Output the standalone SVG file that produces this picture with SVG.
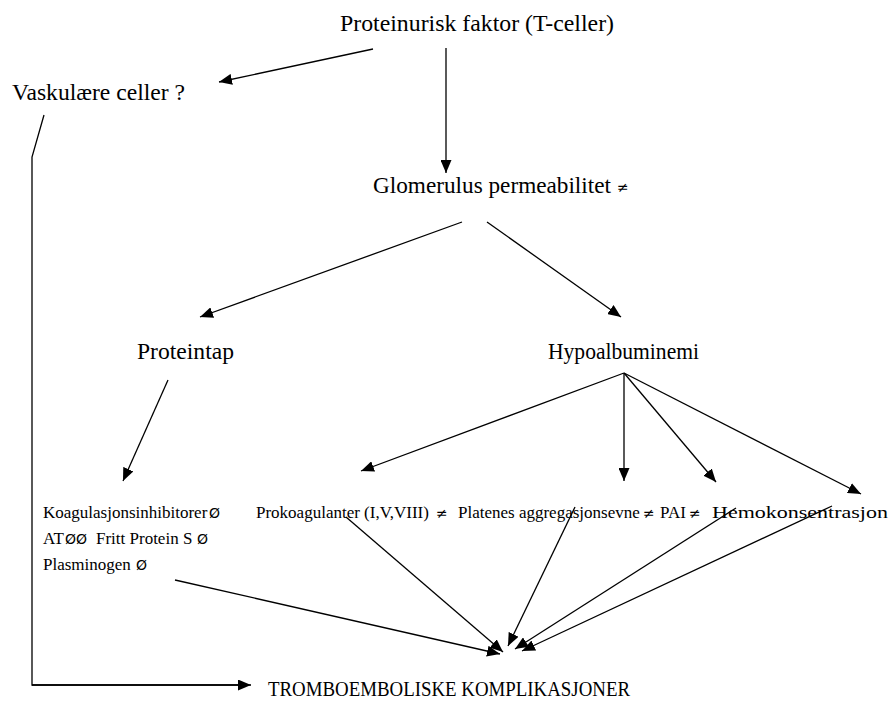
<svg xmlns="http://www.w3.org/2000/svg" width="896" height="704" viewBox="0 0 896 704">
<style>
.lbl{font-family:"Liberation Serif","Times New Roman",serif;font-size:23.5px;fill:#000}
.big{font-family:"Liberation Serif","Times New Roman",serif;font-size:22px;fill:#000}
.sm{font-family:"Liberation Serif","Times New Roman",serif;font-size:17px;fill:#000}
.sym{font-family:"DejaVu Sans","Liberation Sans",sans-serif;font-size:14px;fill:#000}
.ln{stroke:#000;stroke-width:1.3;fill:none}
.ar{marker-end:url(#ah)}
</style>
<defs>
<marker id="ah" markerUnits="userSpaceOnUse" markerWidth="13" markerHeight="11" refX="13" refY="5.5" orient="auto">
<path d="M0,0 L13,5.5 L0,11 z" fill="#000"/>
</marker>
</defs>
<rect width="896" height="704" fill="#fff"/>
<g id="connectors">
<line class="ln ar" x1="373" y1="49" x2="219" y2="82"/>
<line class="ln ar" x1="446" y1="48" x2="446" y2="173"/>
<polyline class="ln" points="44,115 32,157 32,685 240,685"/>
<line class="ln ar" x1="32" y1="685" x2="251" y2="685"/>
<line class="ln ar" x1="462" y1="222" x2="200" y2="317"/>
<line class="ln ar" x1="487" y1="222" x2="621" y2="317"/>
<line class="ln ar" x1="168" y1="380" x2="123" y2="481"/>
<line class="ln ar" x1="624" y1="373" x2="361" y2="471"/>
<line class="ln ar" x1="624" y1="373" x2="624" y2="481"/>
<line class="ln ar" x1="624" y1="373" x2="716" y2="482"/>
<line class="ln ar" x1="624" y1="373" x2="861" y2="494"/>
<line class="ln ar" x1="175" y1="580" x2="500" y2="654"/>
<line class="ln ar" x1="346" y1="517" x2="503" y2="652"/>
<line class="ln ar" x1="575" y1="507" x2="508" y2="646"/>
<line class="ln ar" x1="736" y1="508" x2="515" y2="649"/>
<line class="ln ar" x1="832" y1="506" x2="522" y2="651"/>
</g>
<g id="node-proteinurisk">
<text class="lbl" x="340" y="31" textLength="274" lengthAdjust="spacingAndGlyphs">Proteinurisk faktor (T-celler)</text>
</g>
<g id="node-vaskulaere">
<text class="lbl" x="12" y="100" textLength="173" lengthAdjust="spacingAndGlyphs">Vaskulære celler ?</text>
</g>
<g id="node-glomerulus">
<text class="lbl" x="373" y="193" textLength="238" lengthAdjust="spacingAndGlyphs">Glomerulus permeabilitet</text>
<text class="sym" x="617" y="192">≠</text>
</g>
<g id="node-proteintap">
<text class="lbl" x="137" y="359" textLength="97" lengthAdjust="spacingAndGlyphs">Proteintap</text>
</g>
<g id="node-hypoalbuminemi">
<text class="lbl" x="548" y="359" textLength="151" lengthAdjust="spacingAndGlyphs">Hypoalbuminemi</text>
</g>
<g id="node-koagulasjonsinhibitorer">
<text class="sm" x="43" y="518">Koagulasjonsinhibitorer</text>
<text class="sym" x="209" y="518">Ø</text>
<text class="sm" x="43" y="544">AT</text>
<text class="sym" x="65" y="544">ØØ</text>
<text class="sm" x="96" y="544">Fritt Protein S</text>
<text class="sym" x="197" y="544">Ø</text>
<text class="sm" x="43" y="570">Plasminogen</text>
<text class="sym" x="136" y="570">Ø</text>
</g>
<g id="node-prokoagulanter">
<text class="sm" x="256" y="518">Prokoagulanter (I,V,VIII)</text>
<text class="sym" x="436" y="518">≠</text>
</g>
<g id="node-platenes">
<text class="sm" x="458" y="518">Platenes aggregasjonsevne</text>
<text class="sym" x="643" y="518">≠</text>
</g>
<g id="node-pai">
<text class="sm" x="660" y="518">PAI</text>
<text class="sym" x="689" y="518">≠</text>
</g>
<g id="node-hemokonsentrasjon">
<text class="sm" x="712" y="518" textLength="176" lengthAdjust="spacingAndGlyphs">Hemokonsentrasjon</text>
</g>
<g id="node-tromboemboliske">
<text class="big" x="268" y="696" textLength="362" lengthAdjust="spacingAndGlyphs">TROMBOEMBOLISKE KOMPLIKASJONER</text>
</g>
</svg>
